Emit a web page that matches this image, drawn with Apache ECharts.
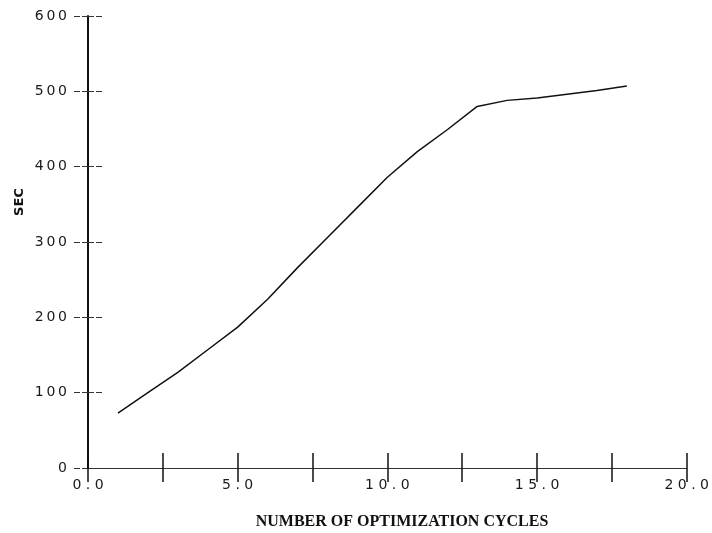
<!DOCTYPE html>
<html>
<head>
<meta charset="utf-8">
<script src="https://cdn.jsdelivr.net/npm/echarts@6/dist/echarts.min.js"></script>
<style>
  html, body { margin: 0; padding: 0; background: #fff; }
  #chart { width: 712px; height: 533px; }
</style>
</head>
<body>
<div id="chart"></div>
<script>
// Optimization cycles vs. elapsed seconds
const cycles = [1, 2, 3, 4, 5, 6, 7, 8, 9, 10, 11, 12, 13, 14, 15, 16, 17, 18];
const seconds = [73, 100, 127, 157, 187, 224, 266, 306, 346, 386, 420, 449, 480, 488, 491, 496, 501, 507];

const xTickStep = 2.5;
const yTickStep = 100;
const xTitle = 'NUMBER OF OPTIMIZATION CYCLES';
const yTitle = 'SEC';

const chart = echarts.init(document.getElementById('chart'), null, { renderer: 'canvas' });

const labelFont = { fontFamily: 'DejaVu Sans', fontSize: 14, color: '#1a1a1a' };

// spaced-out numerals, e.g. "1 0 . 0"
function fmtX(v) {
  if (Math.abs(v % 5) > 1e-9) return '';
  return v.toFixed(1).split('').join(' ');
}
function fmtY(v) {
  return String(v).split('').join('\u2009');
}

const option = {
  animation: false,
  backgroundColor: '#fff',
  grid: { left: 88, right: 24, top: 16, bottom: 65 },
  xAxis: [
    {
      type: 'value', min: 0, max: 20, interval: xTickStep,
      axisLine: { show: true, onZero: false, lineStyle: { color: '#333', width: 1 } },
      axisTick: { show: true, inside: false, length: 14, lineStyle: { color: '#111', width: 1.5 } },
      axisLabel: Object.assign({ margin: 10, formatter: fmtX }, labelFont),
      splitLine: { show: false }
    },
    {
      type: 'value', min: 0, max: 20, interval: xTickStep, position: 'bottom',
      axisLine: { show: false },
      axisTick: { show: true, inside: true, length: 15, lineStyle: { color: '#111', width: 1.5 } },
      axisLabel: { show: false },
      splitLine: { show: false }
    }
  ],
  yAxis: [
    {
      type: 'value', min: 0, max: 600, interval: yTickStep,
      axisLine: { show: true, onZero: false, lineStyle: { color: '#111', width: 2 } },
      axisTick: { show: true, inside: false, length: 15, lineStyle: { color: '#333', width: 1, type: [6, 2] } },
      axisLabel: Object.assign({ margin: 21, formatter: fmtY }, labelFont),
      splitLine: { show: false }
    },
    {
      type: 'value', min: 0, max: 600, interval: yTickStep, position: 'left',
      axisLine: { show: false },
      axisTick: { show: true, inside: true, length: 15, lineStyle: { color: '#333', width: 1, type: [6, 2] } },
      axisLabel: { show: false },
      splitLine: { show: false }
    }
  ],
  graphic: [
    {
      type: 'text', x: 402, y: 522,
      style: {
        text: xTitle, font: 'bold 16px "Liberation Serif"', fill: '#111',
        textAlign: 'center', textVerticalAlign: 'middle'
      }
    },
    {
      type: 'text', x: 20, y: 202, rotation: Math.PI / 2,
      style: {
        text: yTitle, font: 'bold 13px "DejaVu Sans"', fill: '#111',
        textAlign: 'center', textVerticalAlign: 'middle'
      }
    }
  ],
  series: [
    {
      type: 'line',
      xAxisIndex: 0, yAxisIndex: 0,
      data: cycles.map((c, i) => [c, seconds[i]]),
      showSymbol: false,
      lineStyle: { color: '#111', width: 1.5 }
    }
  ]
};

chart.setOption(option);
</script>
</body>
</html>
